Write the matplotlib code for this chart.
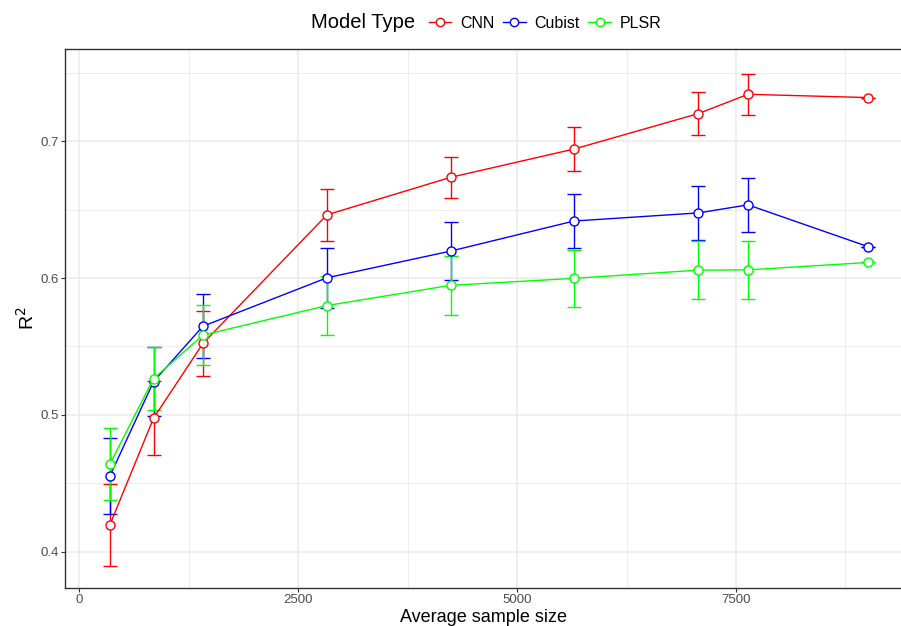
import matplotlib
matplotlib.use("Agg")
import matplotlib.pyplot as plt
from matplotlib.lines import Line2D
from matplotlib.ticker import MultipleLocator

plt.rcParams['font.family'] = ['Liberation Sans', 'DejaVu Sans']

# average sample size per subset
sample_size = [350, 848, 1412, 2828, 4240, 5651, 7070, 7637, 9010]

cnn_r2 = [0.4197, 0.4976, 0.5522, 0.6462, 0.6736, 0.6943, 0.7202, 0.7343, 0.7319]
cnn_err = [0.030, 0.027, 0.024, 0.019, 0.015, 0.016, 0.0157, 0.015, 0.0]

cubist_r2 = [0.4554, 0.5243, 0.5648, 0.6002, 0.6197, 0.6417, 0.6476, 0.6535, 0.6229]
cubist_err = [0.028, 0.025, 0.0235, 0.022, 0.021, 0.020, 0.0195, 0.0195, 0.0]

plsr_r2 = [0.4641, 0.5265, 0.5583, 0.5799, 0.5947, 0.5998, 0.6058, 0.6060, 0.6114]
plsr_err = [0.026, 0.023, 0.022, 0.0215, 0.0215, 0.021, 0.021, 0.021, 0.0]

models = ['CNN', 'Cubist', 'PLSR']
colors = ['#FF0000', '#0000FF', '#00FF00']
series = [(cnn_r2, cnn_err), (cubist_r2, cubist_err), (plsr_r2, plsr_err)]

fig = plt.figure(figsize=(9.01, 6.26), dpi=100)
ax = fig.add_axes([65 / 901, 1 - 588 / 626, 1 - 65 / 901, (588 - 49) / 626])

for name, col, (vals, errs) in zip(models, colors, series):
    ax.errorbar(sample_size, vals, yerr=errs, color=col, linewidth=1.0,
                elinewidth=1.0, capsize=4.7, capthick=1.0,
                marker='o', markersize=6.5, markerfacecolor='white',
                markeredgecolor=col, markeredgewidth=1.0, zorder=3)

ax.set_xlim(-163, 9384)
ax.set_ylim(0.3735, 0.7674)

ax.xaxis.set_major_locator(MultipleLocator(2500))
ax.xaxis.set_minor_locator(MultipleLocator(1250))
ax.yaxis.set_minor_locator(MultipleLocator(0.05))
ax.set_yticks([0.4, 0.5, 0.6, 0.7])
ax.set_yticklabels(['0.4', '0.5', '0.6', '0.7'])

ax.grid(which='major', color='#EBEBEB', linewidth=1.1, zorder=0)
ax.grid(which='minor', color='#EBEBEB', linewidth=0.6, zorder=0)
ax.set_axisbelow(True)

ax.tick_params(which='major', length=3, width=0.8, color='#333333',
               labelcolor='#4D4D4D', labelsize=9.5, pad=1.5)
ax.tick_params(which='minor', length=0)

for side in ['left', 'top', 'bottom']:
    ax.spines[side].set_color('#333333')
    ax.spines[side].set_linewidth(1.0)
ax.spines['right'].set_visible(False)

# x title sits right at the bottom edge, like the original
fig.text((65 + 836 / 2) / 901, 0, 'Average sample size', fontsize=13,
         ha='center', va='bottom')
ax.set_ylabel('R$^2$', fontsize=14, labelpad=2)

# legend along the top
fig.text(311 / 901, 1 - 23 / 626, 'Model Type', fontsize=14.5,
         ha='left', va='center')
handles = [Line2D([0], [0], color=c, linewidth=1.0, marker='o', markersize=6,
                  markerfacecolor='white', markeredgecolor=c)
           for c in colors]
fig.legend(handles, models, loc='center left', bbox_to_anchor=(429 / 901, 1 - 23 / 626),
           ncol=3, frameon=False, fontsize=11.5, handlelength=1.4,
           handletextpad=0.55, columnspacing=0.55, borderpad=0, borderaxespad=0)

fig.savefig('out.png', dpi=100)
